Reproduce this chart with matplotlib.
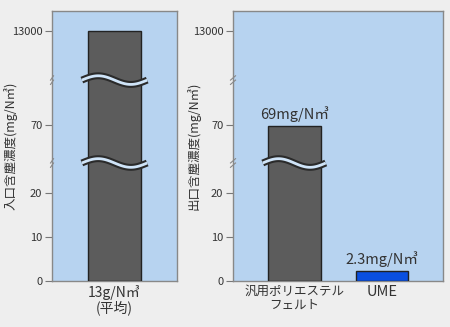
import numpy as np
import matplotlib.pyplot as plt
import matplotlib.transforms as mtransforms

plt.rcParams['font.family'] = ['Noto Sans CJK JP', 'DejaVu Sans']

# データ
in_labels = ['13g/N㎥\n(平均)']
in_values = [13000]
out_labels = ['汎用ポリエステル\nフェルト', 'UME']
out_values = [69, 2.3]
out_texts = ['69mg/N㎥', '2.3mg/N㎥']
yticks = [0, 10, 20, 70, 13000]

# 省略目盛り用の区分線形スケール
knots_val = [0, 10, 20, 70, 13000, 15000]
knots_pos = [0, 44, 88, 156, 249.5, 270]
brk_frac = [0.437, 0.744]  # 波線の位置 (axes比率)

def fwd(v):
    return np.interp(v, knots_val, knots_pos)

def inv(p):
    return np.interp(p, knots_pos, knots_val)

bg = '#eeeeee'
face = '#b7d3f0'
gray = '#5c5c5c'
blue = '#0a4fe0'
txt = '#333333'

fig = plt.figure(figsize=(4.5, 3.27), dpi=100, facecolor=bg)
ax1 = fig.add_axes([0.1156, 0.1407, 0.2778, 0.8257])
ax2 = fig.add_axes([0.5178, 0.1407, 0.4667, 0.8257])

def wave(ax, x0, x1, yf, amp=0.016):
    tr = mtransforms.blended_transform_factory(ax.transData, ax.transAxes)
    t = np.linspace(0, 1, 60)
    xs = x0 + (x1 - x0) * t
    ys = yf + amp * np.sin(2 * np.pi * t)
    ax.plot(xs, ys, color='#2a2a2a', lw=5, transform=tr, clip_on=False,
            solid_capstyle='butt', zorder=5)
    ax.plot(xs, ys, color='#cfe4f8', lw=2, transform=tr, clip_on=False,
            solid_capstyle='butt', zorder=6)

def spine_mark(ax, yf):
    for d in (-0.008, 0.008):
        ax.plot([-0.012, 0.012], [yf + d - 0.008, yf + d + 0.008],
                color='#888888', lw=0.8, transform=ax.transAxes,
                clip_on=False, zorder=7)

for ax in (ax1, ax2):
    ax.set_facecolor(face)
    ax.set_yscale('function', functions=(fwd, inv))
    ax.set_ylim(0, 15000)
    ax.set_yticks(yticks)
    ax.set_yticklabels([str(v) for v in yticks])
    ax.minorticks_off()
    ax.tick_params(axis='y', length=5, width=0.8, color='#777777',
                   labelsize=8, labelcolor=txt, pad=2)
    ax.tick_params(axis='x', length=0, labelsize=9, labelcolor=txt, pad=3)
    for s in ax.spines.values():
        s.set_color('#888888')
        s.set_linewidth(1)
    for yf in brk_frac:
        spine_mark(ax, yf)

# 左: 入口
w = 0.6
ax1.bar([0], in_values, width=w, color=gray, edgecolor='#222222', lw=1, zorder=3)
ax1.set_xlim(-0.708, 0.708)
ax1.set_xticks([0])
ax1.set_xticklabels(in_labels, linespacing=1.0, fontsize=10)
for yf in brk_frac:
    wave(ax1, -w / 2 - 0.07, w / 2 + 0.07, yf)

# 右: 出口
xs = np.arange(len(out_values))
ax2.bar(xs, out_values, width=w, color=[gray, blue], edgecolor='#222222',
        lw=1, zorder=3)
ax2.set_xlim(-0.70, 1.70)
ax2.set_xticks(xs)
ax2.set_xticklabels(out_labels, linespacing=1.1)
ax2.get_xticklabels()[1].set_fontsize(10.5)
ax2.get_xticklabels()[1].set_va('top')
for x, v, s in zip(xs, out_values, out_texts):
    ax2.annotate(s, (x, v), xytext=(0, 3), textcoords='offset points',
                 ha='center', va='bottom', fontsize=10.5, color=txt)
wave(ax2, -w / 2 - 0.06, w / 2 + 0.06, brk_frac[0])

# 縦軸ラベル
fig.text(11 / 450, 1 - 146 / 327, '入口含塵濃度(mg/N㎥)', rotation=90,
         ha='center', va='center', fontsize=9, color=txt)
fig.text(194 / 450, 1 - 146 / 327, '出口含塵濃度(mg/N㎥)', rotation=90,
         ha='center', va='center', fontsize=9, color=txt)

fig.savefig('out.png', dpi=100, facecolor=bg)
